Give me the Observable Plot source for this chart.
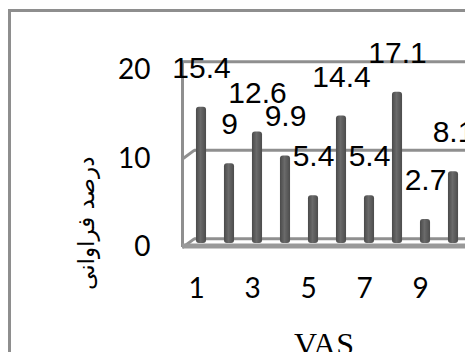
<!DOCTYPE html>
<html>
<head>
<meta charset="utf-8">
<script src="https://cdn.jsdelivr.net/npm/d3@7"></script>
<script src="https://cdn.jsdelivr.net/npm/@observablehq/plot@0.6"></script>
<style>
  html, body { margin: 0; padding: 0; overflow: hidden; background: white; }
  #wrap { position: relative; width: 465px; height: 352px; overflow: hidden; }
  #border { position: absolute; left: 8px; top: 9px; width: 600px; height: 600px; border: 3px solid #8e8e8e; pointer-events: none; }
</style>
</head>
<body>
<div id="wrap"><div id="chart"></div><div id="border"></div></div>
<script>
// Data
const categories = [1, 2, 3, 4, 5, 6, 7, 8, 9, 10];
const values = [15.4, 9, 12.6, 9.9, 5.4, 14.4, 5.4, 17.1, 2.7, 8.1];
const valueLabels = ["15.4", "9", "12.6", "9.9", "5.4", "14.4", "5.4", "17.1", "2.7", "8.1"];
const yTicks = [0, 10, 20];
const xTicks = [1, 3, 5, 7, 9];
const xTitle = "VAS";
const yTitle = "درصد فراوانی";

const rows = categories.map((c, i) => ({cat: c, value: values[i], label: valueLabels[i]}));

// 3D depth of the walls, in data units
const depthX = 0.43, depthY = 1.0;
const xMin = 0.5, xMax = 10.607;
const barHalf = 0.18;

const plot = Plot.plot({
  width: 465,
  height: 352,
  marginLeft: 182,
  marginRight: 0,
  marginTop: 70,
  marginBottom: 105,
  x: {domain: [xMin, xMax]},
  y: {domain: [0, 20]},
  style: {background: "transparent"},
  marks: [
    // back wall gridlines
    Plot.ruleY(yTicks, {y: d => d + depthY, x1: xMin + depthX, x2: xMax, stroke: "#8f8f8f", strokeWidth: 3}),
    // side wall gridlines (slanted)
    Plot.link(yTicks.filter(d => d < 20), {x1: xMin, y1: d => d, x2: xMin + depthX, y2: d => d + depthY, stroke: "#8f8f8f", strokeWidth: 3}),
    // side wall front edge and top
    Plot.ruleX([xMin], {y1: 0, y2: 20 + depthY, stroke: "#8f8f8f", strokeWidth: 3}),
    Plot.ruleY([20 + depthY], {x1: xMin, x2: xMin + depthX, stroke: "#8f8f8f", strokeWidth: 3}),
    // bars (cylinders)
    Plot.rectY(rows, {
      x1: d => d.cat - barHalf, x2: d => d.cat + barHalf, y1: 0, y2: "value",
      dx: 5, dy: -4, fill: "url(#cyl)", rx: 3
    }),
    // floor front edge
    Plot.ruleY([0], {x1: xMin, x2: xMax, stroke: "#999999", strokeWidth: 5, dy: -1.5}),
    // axes
    Plot.axisY({ticks: yTicks, tickSize: 0, tickPadding: 32, fontSize: 28, fontFamily: "Lato", fill: "black", label: null}),
    Plot.axisX({ticks: xTicks, tickSize: 0, tickPadding: 31, fontSize: 28, fontFamily: "Lato", fill: "black", label: null}),
    // value labels
    Plot.text(rows, {x: "cat", y: "value", text: "label", dx: 5, dy: -43, fontSize: 30, fontFamily: "Liberation Sans", fill: "black"}),
    // titles
    Plot.text([xTitle], {frameAnchor: "bottom", dy: 107, fontSize: 32, fontFamily: "Liberation Serif", fill: "black"}),
    Plot.text([yTitle], {frameAnchor: "left", dx: -96, dy: 131, rotate: -90, fontSize: 23, fontFamily: "DejaVu Sans", fill: "black"})
  ]
});

// cylinder shading gradient
const svg = d3.select(plot);
const defs = svg.insert("defs", ":first-child");
const g = defs.append("linearGradient").attr("id", "cyl").attr("x1", "0%").attr("x2", "100%");
g.append("stop").attr("offset", "0%").attr("stop-color", "#4a4a4a");
g.append("stop").attr("offset", "45%").attr("stop-color", "#6a6a6a");
g.append("stop").attr("offset", "100%").attr("stop-color", "#4c4c4c");

document.getElementById("chart").appendChild(plot);
</script>
</body>
</html>
